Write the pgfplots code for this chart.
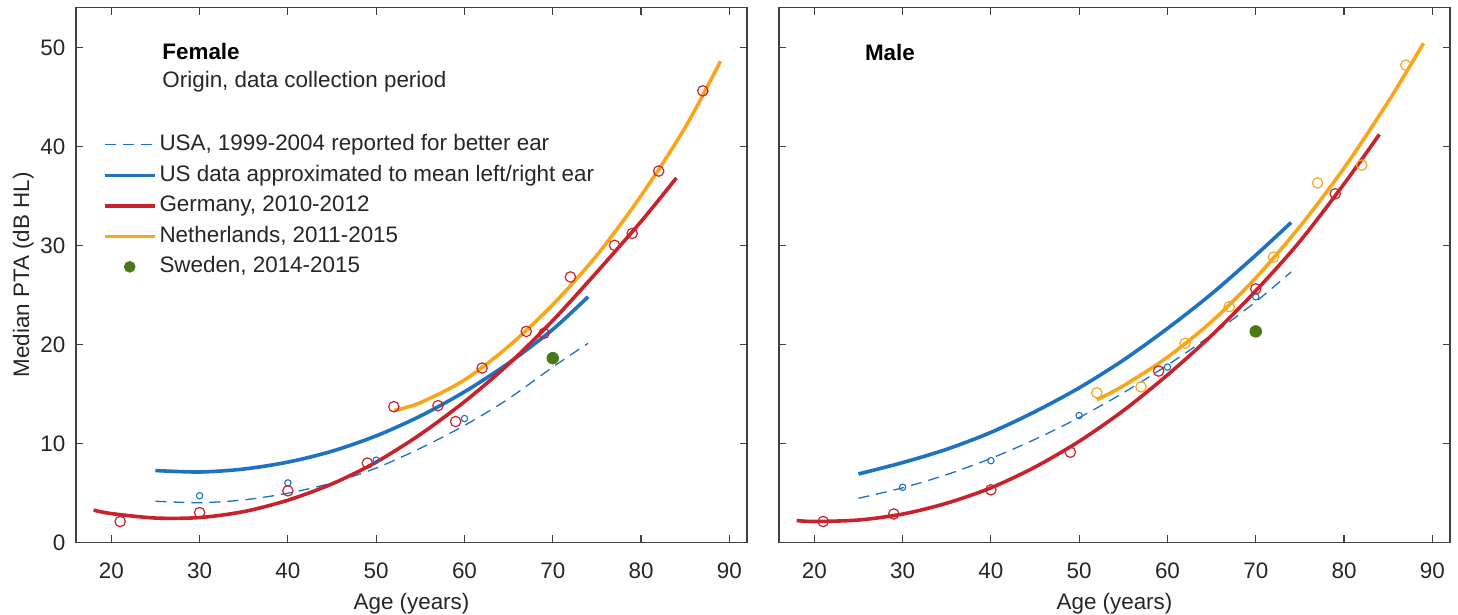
\documentclass[border=0pt]{standalone}
\usepackage{fontspec}
\setmainfont{Liberation Sans}
\usepackage{pgfplots}
\pgfplotsset{compat=1.18}

\definecolor{usblue}{HTML}{1D72C2}
\definecolor{gerred}{HTML}{C8232C}
\definecolor{nlyellow}{HTML}{F9A61A}
\definecolor{segreen}{HTML}{4A7A16}
\definecolor{axisgray}{HTML}{404040}
\definecolor{textgray}{HTML}{262626}
\newcommand{\fs}{\fontsize{11.2}{13.4}\selectfont}

\pgfplotsset{
  panel/.style={
    anchor=south west, scale only axis,
    width=335.5pt, height=267.3pt,
    xmin=16, xmax=92, ymin=0, ymax=54,
    xtick={20,30,...,90}, ytick={0,10,...,50},
    tick align=inside, major tick length=3.5pt,
    axis line style={draw=axisgray, line width=0.6pt},
    tick style={draw=axisgray, line width=0.6pt},
    every tick label/.append style={font=\fs, text=textgray},
    /pgf/number format/assume math mode=true,
    xticklabel style={yshift=-6.8pt},
    yticklabel style={xshift=-1.8pt},
    xlabel={Age (years)},
    xlabel style={at={(axis description cs:0.5,-0.125)}, anchor=base, font=\fs, text=textgray},
  },
  thickline/.style={line width=1.8pt, no markers, smooth},
  usdash/.style={usblue, line width=0.65pt, dash pattern=on 5.5pt off 3.5pt, no markers, smooth},
  bigcirc/.style={only marks, mark=o, mark size=2.6pt, mark options={line width=0.6pt}},
  smallcirc/.style={only marks, mark=o, mark size=1.6pt, mark options={line width=0.55pt}, color=usblue},
  swedot/.style={only marks, mark=*, mark size=2.9pt, color=segreen},
}

\begin{document}
\begin{tikzpicture}
\path[use as bounding box] (0,0) rectangle (729pt,307.5pt);

% ---------------- Female ----------------
\begin{axis}[panel, at={(38pt,36.35pt)},
  ylabel={Median PTA (dB HL)},
  ylabel style={at={(axis description cs:-0.070,0.5)}, anchor=base, font=\fs, text=textgray},
  legend style={at={(axis description cs:0.0395,0.7704)}, anchor=north west,
    draw=none, fill=none, inner sep=0pt, font=\fs, text=textgray, row sep=1.25pt,
    nodes={inner sep=1.5pt, text height=8.5pt, text depth=2.5pt}},
  legend cell align=left,
  legend image code/.code={\draw[#1] (0pt,0pt) -- (25pt,0pt);}]

\addplot[usdash] coordinates {(25,4.15) (30,4.0) (35,4.28) (40,4.96) (45,6.0) (50,7.5)
  (55,9.5) (60,11.8) (65,14.5) (70,17.7) (74,20.1)};
\addlegendentry{USA, 1999-2004 reported for better ear}
\addplot[thickline, usblue] coordinates {(25,7.25) (30,7.1) (35,7.4) (40,8.1) (45,9.2) (50,10.75)
  (55,12.75) (60,15.2) (65,18.1) (70,21.5) (74,24.8)};
\addlegendentry{US data approximated to mean left/right ear}
\addplot[thickline, gerred] coordinates {(18,3.25) (20,2.9) (25,2.45) (30,2.5) (35,3.1) (40,4.25)
  (45,5.9) (50,8.1) (55,10.9) (60,14.2) (65,18.0) (70,22.4) (75,27.3) (80,32.4) (84,36.8)};
\addlegendentry{Germany, 2010-2012}
\addplot[thickline, nlyellow] coordinates {(52,13.3) (55,14.1) (60,16.4) (65,19.8) (70,24.0)
  (75,29.0) (80,35.0) (85,41.9) (89,48.6)};
\addlegendentry{Netherlands, 2011-2015}

\addplot[smallcirc, forget plot] coordinates {(30,4.7) (40,6.0) (50,8.3) (60,12.5) (70,18.6)};
\addplot[bigcirc, gerred, forget plot] coordinates {(21,2.1) (30,3.0) (40,5.2) (49,8.0) (59,12.2)
  (69,21.1) (79,31.2)};
\addplot[bigcirc, gerred, forget plot] coordinates {(52,13.7) (57,13.8) (62,17.6) (67,21.3)
  (72,26.8) (77,30.0) (82,37.5) (87,45.6)};

\addplot[swedot, legend image code/.code={\fill[segreen] (12.5pt,0pt) circle (2.7pt);}]
  coordinates {(70,18.6)};
\addlegendentry{Sweden, 2014-2015}

\node[anchor=base west, inner sep=0pt, font=\fs\bfseries, text=black] at (axis cs:25.75,48.8) {Female};
\node[anchor=base west, inner sep=0pt, font=\fs, text=textgray] at (axis cs:25.75,45.9) {Origin, data collection period};
\end{axis}

% ---------------- Male ----------------
\begin{axis}[panel, at={(389.5pt,36.35pt)}, yticklabels={}]

\addplot[usdash] coordinates {(25,4.45) (30,5.5) (35,6.84) (40,8.47) (45,10.4) (50,12.6)
  (55,15.1) (60,17.9) (65,20.95) (70,24.3) (74,27.3)};
\addplot[thickline, usblue] coordinates {(25,6.9) (30,8.05) (35,9.4) (40,11.1) (45,13.2) (50,15.6)
  (55,18.4) (60,21.6) (65,25.1) (70,29.0) (74,32.3)};
\addplot[thickline, gerred] coordinates {(18,2.2) (20,2.1) (25,2.25) (30,2.85) (35,3.95) (40,5.5)
  (45,7.6) (50,10.2) (55,13.3) (60,16.9) (65,20.9) (70,25.4) (75,30.4) (80,36.2) (84,41.2)};
\addplot[thickline, nlyellow] coordinates {(52,14.4) (55,15.8) (60,18.7) (65,22.3) (70,26.7)
  (75,31.9) (80,37.8) (85,44.5) (89,50.4)};

\addplot[smallcirc] coordinates {(30,5.56) (40,8.25) (50,12.8) (60,17.7) (70,24.8)};
\addplot[bigcirc, gerred] coordinates {(21,2.1) (29,2.86) (40,5.3) (49,9.1) (59,17.3) (70,25.6) (79,35.2)};
\addplot[bigcirc, nlyellow] coordinates {(52,15.1) (57,15.7) (62,20.1) (67,23.8) (72,28.8)
  (77,36.3) (82,38.1) (87,48.2)};
\addplot[swedot] coordinates {(70,21.3)};

\node[anchor=base west, inner sep=0pt, font=\fs\bfseries, text=black] at (axis cs:25.7,48.7) {Male};
\end{axis}
\end{tikzpicture}
\end{document}
